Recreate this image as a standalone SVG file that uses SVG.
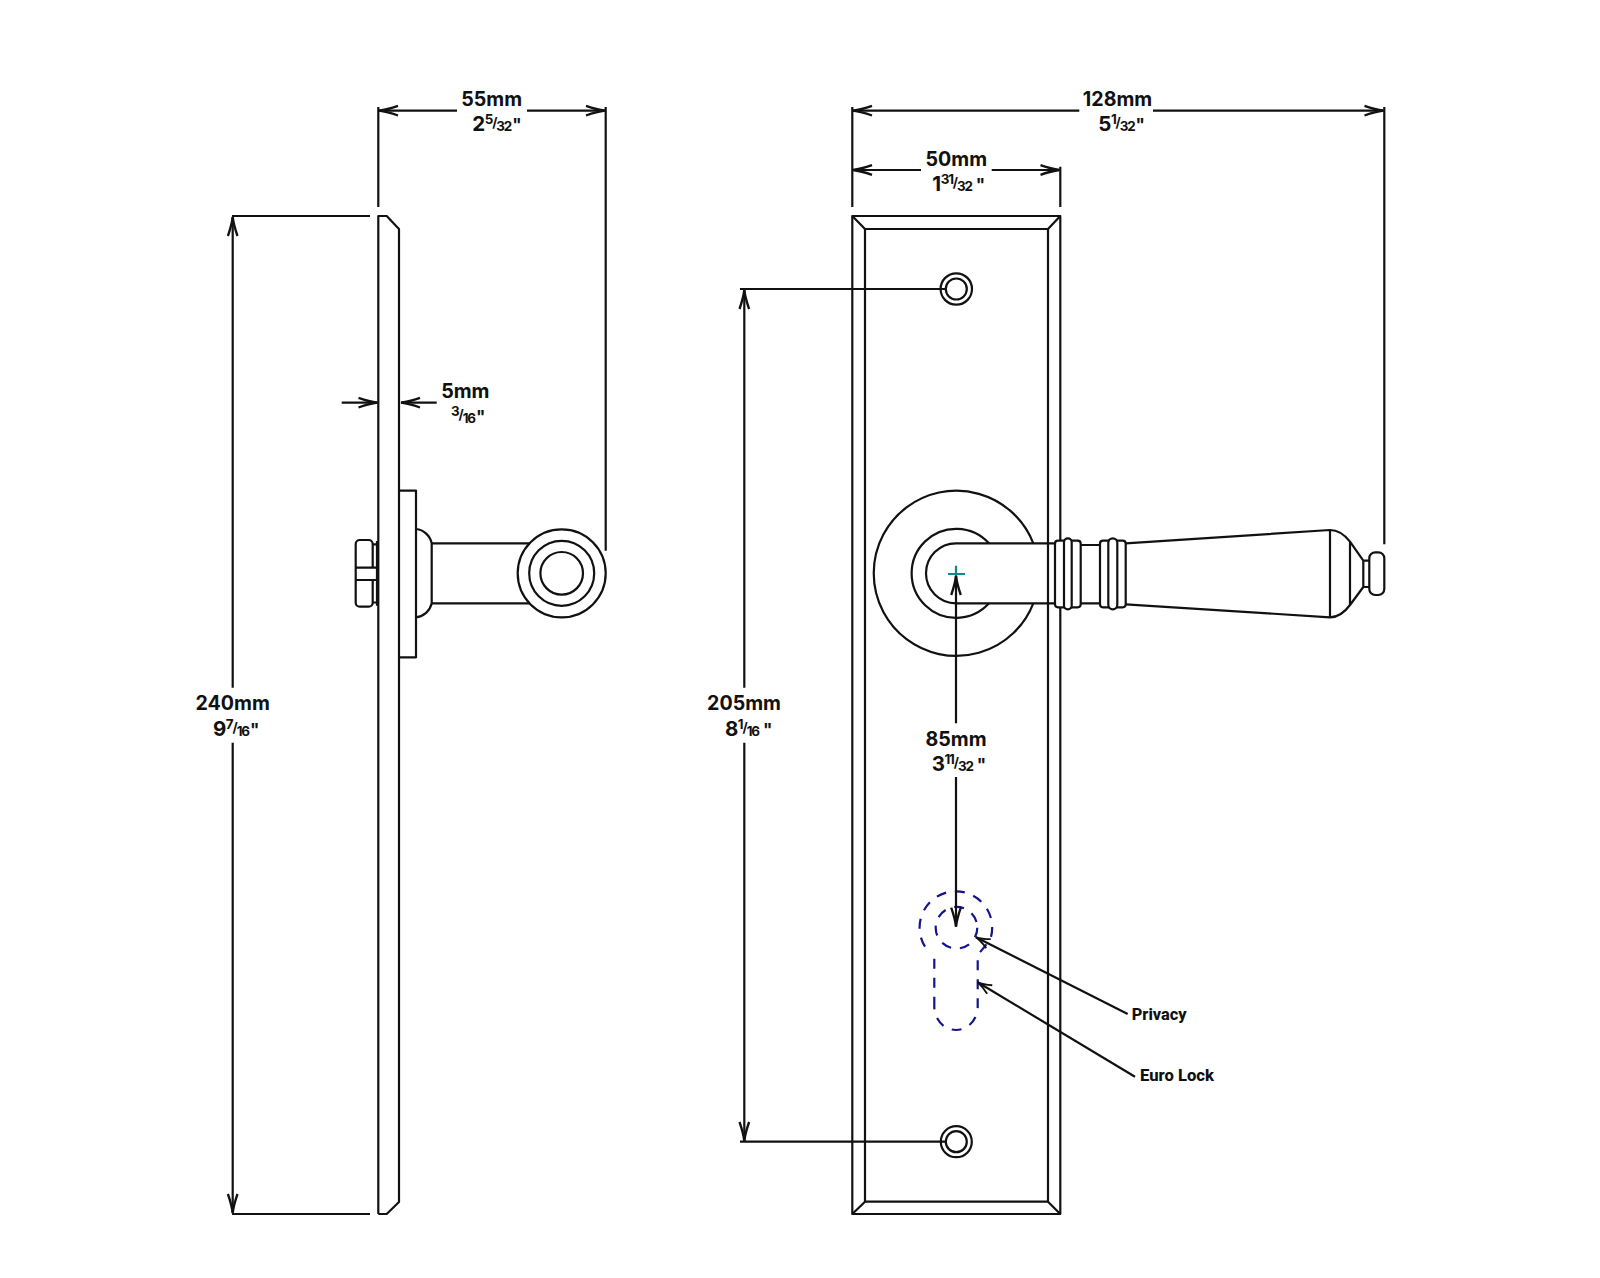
<svg xmlns="http://www.w3.org/2000/svg" width="1600" height="1278" viewBox="0 0 1600 1278">
<style>
.l{fill:none;stroke:#111;stroke-width:2.2;stroke-linejoin:round}
.d{fill:none;stroke:#111;stroke-width:2.2}
.h{fill:#fff;stroke:#111;stroke-width:2.2;stroke-linejoin:round}
.e{fill:none;stroke:#14148c;stroke-width:2.2;stroke-dasharray:10 9}
.t{font-family:Inter,"Liberation Sans",sans-serif;font-weight:700;font-size:19.6px;fill:#111}
.c{text-anchor:middle}
.f{font-size:20.5px}
.s{font-size:13.4px;letter-spacing:-1.1px}
.q{font-size:17px}
.p{font-family:Roboto,"Liberation Sans",sans-serif;font-weight:800;font-size:17px;fill:#111}
</style>
<defs>
<marker id="a" markerUnits="userSpaceOnUse" viewBox="-21 -7 23 14" refX="0" refY="0" markerWidth="23" markerHeight="14" orient="auto"><path d="M-19,-4.8Q-8,-1 0,0Q-8,1 -19,4.8" fill="none" stroke="#111" stroke-width="2.3"/></marker>
<marker id="b" markerUnits="userSpaceOnUse" viewBox="-16 -7 18 14" refX="0" refY="0" markerWidth="18" markerHeight="14" orient="auto"><path d="M-14,-5Q-6,-1 0,0Q-6,1 -14,5" fill="none" stroke="#111" stroke-width="1.9"/></marker>
</defs>
<rect width="1600" height="1278" fill="#fff"/>

<g id="side-plate"><path class="l" d="M378.3,1214V216H386.7L399,229V1202L386.7,1214H378.3"/></g>
<g id="side-rose"><path class="l" d="M399,490.7H416V657.3H399M416,529A18,18 0 0 1 431.7,543.3V603.3A18,18 0 0 1 416,617.3"/></g>
<g id="side-lever"><path class="l" d="M431.7,543.3H530M431.7,603.3H530"/>
<circle class="l" cx="561.7" cy="573.3" r="44"/><circle class="l" cx="561.7" cy="573.3" r="32.5"/><circle class="l" cx="561.7" cy="573.3" r="21.3"/></g>
<g id="side-bolt"><path class="l" d="M372.7,567.7H355.7V544A4,4 0 0 1 359.7,540H368.7A4,4 0 0 1 372.7,544V567.7M372.7,580H355.7V602.7A4,4 0 0 0 359.7,606.7H368.7A4,4 0 0 0 372.7,602.7V580M355.7,567V581M372.7,544.3H377M372.7,602.5H377M377,541V605.7M372.7,567.7H378M372.7,580H378"/></g>

<g id="front-plate"><rect class="l" x="852.3" y="216" width="208" height="998"/><rect class="l" x="865" y="229" width="183" height="972.7"/><path class="l" d="M852.3,216L865,229M1060.3,216L1048,229M852.3,1214L865,1201.7M1060.3,1214L1048,1201.7"/></g>
<g id="screw-top"><circle class="l" cx="956.3" cy="289" r="15.7"/><circle class="l" cx="956.3" cy="289" r="10.5"/></g>
<g id="screw-bottom"><circle class="l" cx="956.3" cy="1141.7" r="15.5"/><circle class="l" cx="956.3" cy="1141.7" r="10.5"/></g>
<g id="front-rose"><path class="l" d="M1033.3,543.3A82.6,82.6 0 1 0 1033.3,603.3M989,543.3A44.5,44.5 0 1 0 989,603.3"/></g>
<g id="front-lever"><path class="l" d="M1055,543.3H956A30,30 0 0 0 956,603.3H1055"/>
<path class="l" d="M1080.7,545H1100M1080.7,603.3H1100"/>
<rect class="h" x="1055" y="540.7" width="25.7" height="66.6" rx="3"/>
<rect class="h" x="1064" y="538.3" width="7.7" height="71" rx="3.8"/>
<rect class="h" x="1100" y="540.7" width="25.7" height="66.6" rx="3"/>
<rect class="h" x="1108.3" y="538.3" width="9" height="71" rx="4.5"/>
<path class="l" d="M1125.7,543.3L1330,530Q1341,530 1350,541.7L1363.3,560.7H1369.3M1125.7,604.3L1330,617.3Q1341,617.3 1350,605L1363.3,587H1369.3M1330,530V617.3M1350,541.7V605M1363.3,560.7V587"/>
<rect class="l" x="1369.3" y="552.3" width="15" height="42.7" rx="6"/></g>
<g id="centre-mark"><path d="M948,574H965M956,565.7V584" fill="none" stroke="#0f8a8a" stroke-width="2.2"/></g>
<g id="euro-lock"><circle class="e" cx="956.5" cy="927.7" r="20.8"/><path class="e" d="M934.3,1006.7V956M925,946.7A36.3,36.3 0 1 1 990,940L977.7,955V1006.7A21.7,23.3 0 0 1 934.3,1006.7"/></g>

<g id="connectors">
<path class="d" d="M378.3,107V207M605.7,107V550.7M232,216H370M232,1214H370M852.3,107V207M1384.3,107V544.3M1060.3,166.7V207M740,289H946.7M740,1141.7H946.7"/>
<path class="d" d="M457,110.7H379" marker-end="url(#a)"/>
<path class="d" d="M527,110.7H605" marker-end="url(#a)"/>
<path class="d" d="M1079.3,110.7H853" marker-end="url(#a)"/>
<path class="d" d="M1153,110.7H1383.5" marker-end="url(#a)"/>
<path class="d" d="M921,170H853" marker-end="url(#a)"/>
<path class="d" d="M991.7,170H1059.5" marker-end="url(#a)"/>
<path class="d" d="M341.7,402.7H377.5" marker-end="url(#a)"/>
<path class="d" d="M436.7,402.7H401" marker-end="url(#a)"/>
<path class="d" d="M232.7,687.7V217" marker-end="url(#a)"/>
<path class="d" d="M232.7,742.7V1213" marker-end="url(#a)"/>
<path class="d" d="M744.3,687.7V290" marker-end="url(#a)"/>
<path class="d" d="M744.3,742.7V1141" marker-end="url(#a)"/>
<path class="d" d="M956,723.3V576" marker-end="url(#a)"/>
<path class="d" d="M956,777V926.7" marker-end="url(#a)"/>
<path class="d" d="M1127.7,1014L976,937.3" marker-end="url(#b)"/>
<path class="d" d="M1135,1076.7L977.7,982.3" marker-end="url(#b)"/>
</g>

<g id="labels">
<text class="t c" x="491.7" y="106">55mm</text>
<text class="t f" x="472.3" y="131">2<tspan class="s" dy="-7" dx="-.5">5</tspan><tspan class="s" dy="3">/</tspan><tspan class="s" dy="4">32</tspan><tspan class="q" dx="1">"</tspan></text>
<text class="t c" x="1117.5" y="106">128mm</text>
<text class="t f" x="1098.3" y="131">5<tspan class="s" dy="-7" dx="-.5">1</tspan><tspan class="s" dy="3">/</tspan><tspan class="s" dy="4">32</tspan><tspan class="q" dx="1">"</tspan></text>
<text class="t c" x="956.3" y="166">50mm</text>
<text class="t f" x="932.3" y="190.5">1<tspan class="s" dy="-7" dx="-.5">31</tspan><tspan class="s" dy="3">/</tspan><tspan class="s" dy="4">32</tspan><tspan class="q" dx="4">"</tspan></text>
<text class="t c" x="465.3" y="398">5mm</text>
<text class="t f" x="451" y="423"><tspan class="s" dy="-7">3</tspan><tspan class="s" dy="3">/</tspan><tspan class="s" dy="4">16</tspan><tspan class="q" dx="1">"</tspan></text>
<text class="t c" x="232.7" y="710">240mm</text>
<text class="t f" x="213" y="735.5">9<tspan class="s" dy="-7" dx="-.5">7</tspan><tspan class="s" dy="3">/</tspan><tspan class="s" dy="4">16</tspan><tspan class="q" dx="1">"</tspan></text>
<text class="t c" x="744" y="710">205mm</text>
<text class="t f" x="725" y="735.5">8<tspan class="s" dy="-7" dx="-.5">1</tspan><tspan class="s" dy="3">/</tspan><tspan class="s" dy="4">16</tspan><tspan class="q" dx="4">"</tspan></text>
<text class="t c" x="956" y="745.5">85mm</text>
<text class="t f" x="931.7" y="770.5">3<tspan class="s" dy="-7" dx="-.5">11</tspan><tspan class="s" dy="3">/</tspan><tspan class="s" dy="4">32</tspan><tspan class="q" dx="4">"</tspan></text>
<text class="p" x="1131.7" y="1020" textLength="55" lengthAdjust="spacingAndGlyphs">Privacy</text>
<text class="p" x="1140" y="1081" textLength="74" lengthAdjust="spacingAndGlyphs">Euro Lock</text>
</g>
</svg>
